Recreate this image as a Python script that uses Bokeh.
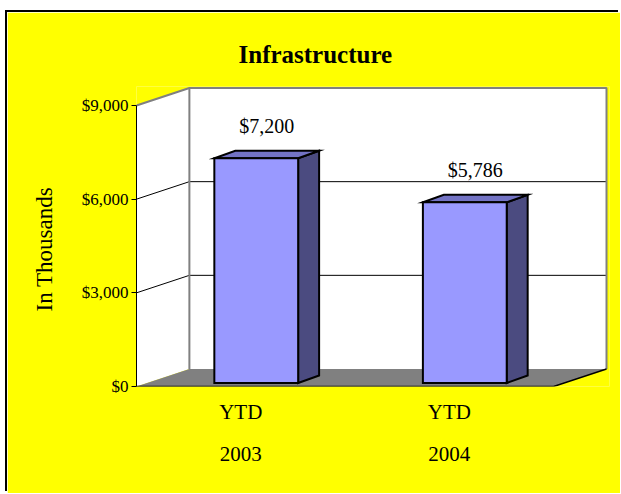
from bokeh.plotting import figure
from bokeh.models import (FixedTicker, NumeralTickFormatter, LinearAxis, Range1d,
                          ColumnDataSource, Title)
from bokeh.core.properties import value
from bokeh.embed import file_html
from bokeh.resources import INLINE

# ---------------- data ----------------
title_text = "Infrastructure"
cat_line1 = ["YTD", "YTD"]
cat_line2 = ["2003", "2004"]
values = [7200, 5786]
value_labels = ["$7,200", "$5,786"]
y_ticks = [0, 3000, 6000, 9000]
y_label = "In Thousands"

# ---------------- geometry (pixels -> data units) ----------------
FONT = "Liberation Serif"
n = len(values)
YMAX = y_ticks[-1]
CAT_PX = 209.0          # pixels per category
Y_PX = 281.0            # pixels for 0..YMAX
ux = 1.0 / CAT_PX
uy = YMAX / Y_PX

W, H = 613, 481
BL, BR, BT, BB = 128, 11, 74, 107
FW, FH = W - BL - BR, H - BT - BB

DX, DY = 53 * ux, 17.5 * uy             # wall depth
BDX, BDY = 21 * ux, 7.5 * uy            # bar depth
SHX, SHY = 15.5 * ux, 3.5 * uy          # bar front-face shift into depth
HALF = 42 * ux                          # half of bar front width

p = figure(width=W, height=H, x_range=Range1d(0, FW * ux), y_range=Range1d(0, FH * uy),
           output_backend="svg", toolbar_location=None, x_axis_location=None,
           min_border_left=BL, min_border_right=BR, min_border_top=BT, min_border_bottom=BB)
p.margin = (12, 0, 0, 7)
p.styles = {"box-shadow": "-2px -2px 0 0 #000000"}
p.background_fill_color = "#FFFF00"
p.border_fill_color = "#FFFF00"
p.outline_line_color = None
p.grid.visible = False

# title
p.title.text = title_text
p.title.align = "left"
p.title.text_font = FONT
p.title.text_font_size = "25px"
p.title.text_font_style = "bold"
p.title.text_color = "#000000"
p.title.standoff = 38
p.title.offset = 102

# walls
p.patch([0, 0, DX, DX], [0, YMAX, YMAX + DY, DY], fill_color="white", line_color=None)
p.quad(left=[DX], right=[n + DX], bottom=[DY], top=[YMAX + DY], fill_color="white", line_color=None)
p.patch([0, n, n + DX, DX], [0, 0, DY, DY], fill_color="#808080", line_color=None)

inner = y_ticks[1:-1]
p.segment(x0=[0] * len(inner), y0=inner, x1=[DX] * len(inner), y1=[t + DY for t in inner],
          line_color="black", line_width=1)
p.segment(x0=[DX] * len(inner), y0=[t + DY for t in inner], x1=[n + DX] * len(inner),
          y1=[t + DY for t in inner], line_color="black", line_width=1)
# wall edges (gray)
p.line([0, DX, n + DX, n + DX], [YMAX, YMAX + DY, YMAX + DY, DY], line_color="#808080", line_width=2)
p.line([DX, DX], [DY, YMAX + DY], line_color="#808080", line_width=2)
# floor front edges
p.line([0, n, n + DX], [0, 0, DY], line_color="black", line_width=1.5)

# bars
cx = [i + 0.5 + SHX for i in range(n)]
lefts = [c - HALF for c in cx]
rights = [c + HALF for c in cx]
bots = [SHY] * n
tops = [v + SHY for v in values]

side_xs = [[r, r + BDX, r + BDX, r] for r in rights]
side_ys = [[b, b + BDY, t + BDY, t] for b, t in zip(bots, tops)]
top_xs = [[l, r, r + BDX, l + BDX] for l, r in zip(lefts, rights)]
top_ys = [[t, t, t + BDY, t + BDY] for t in tops]

p.patches(side_xs, side_ys, fill_color="#4B4B80", line_color="black", line_width=2, line_join="miter")
p.patches(top_xs, top_ys, fill_color="#7373C4", line_color="black", line_width=2, line_join="miter")
p.quad(left=lefts, right=rights, bottom=bots, top=tops, fill_color="#9999FF",
       line_color="black", line_width=2, line_join="miter")

# value labels
lab_src = ColumnDataSource(dict(x=[c + BDX / 2 for c in cx], y=[t + 32 * uy for t in tops],
                                text=value_labels))
p.text(x="x", y="y", text="text", source=lab_src, text_align="center", text_baseline="middle",
       text_font=value(FONT), text_font_size=value("20px"), text_color="black")

# y axis
ya = p.yaxis[0]
ya.bounds = (0, YMAX)
ya.ticker = FixedTicker(ticks=y_ticks)
ya.formatter = NumeralTickFormatter(format="$0,0")
ya.major_tick_out = 5
ya.major_tick_in = 0
ya.minor_tick_line_color = None
ya.major_label_standoff = 3
ya.major_label_text_font = FONT
ya.major_label_text_font_size = "17px"
ya.major_label_text_color = "black"
ya.axis_line_color = "black"

# y-axis title as a rotated side title
ytitle = Title(text=y_label, align="left", offset=75, standoff=44,
               text_font=FONT, text_font_size="23px", text_font_style="normal",
               text_color="black")
p.add_layout(ytitle, "left")

# category axes (two rows)
centers = [i + 0.5 for i in range(n)]
for labels, standoff in ((cat_line1, 13), (cat_line2, 20)):
    ax = LinearAxis(ticker=FixedTicker(ticks=centers),
                    major_label_overrides={c: l for c, l in zip(centers, labels)})
    ax.axis_line_color = None
    ax.major_tick_line_color = None
    ax.minor_tick_line_color = None
    ax.major_tick_out = 0
    ax.major_label_standoff = standoff
    ax.major_label_text_font = FONT
    ax.major_label_text_font_size = "21px"
    ax.major_label_text_color = "black"
    p.add_layout(ax, "below")

open("out.html", "w").write(file_html(p, INLINE))
